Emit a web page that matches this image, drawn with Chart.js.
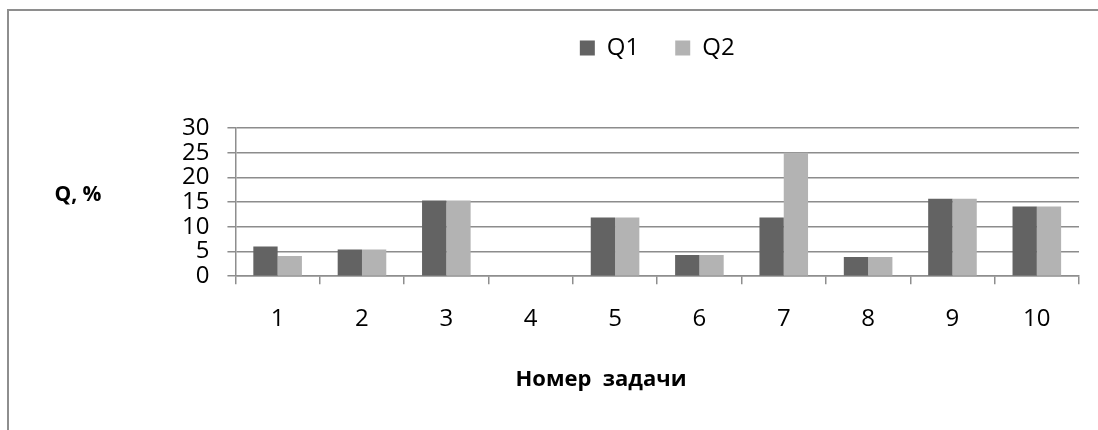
<!DOCTYPE html>
<html lang="ru">
<head>
  <meta charset="UTF-8">
  <title>Q1 / Q2 по номерам задач</title>
  <script src="https://cdn.jsdelivr.net/npm/chart.js@4.4.3/dist/chart.umd.min.js"></script>
  <style>
    body { margin: 0; background: #fff; font-family: "Open Sans", sans-serif; }
    .frame { position: absolute; left: 7px; top: 9px; width: 1100px; height: 430px;
             border-top: 2px solid #8e8e8e; border-left: 2px solid #8e8e8e; }
    .wrap { position: absolute; left: 0; top: 0; width: 1098px; height: 430px; }
  </style>
</head>
<body>
  <div class="frame"></div>
  <div class="wrap"><canvas id="chart"></canvas></div>

  <script>
    const tasks = ['1', '2', '3', '4', '5', '6', '7', '8', '9', '10'];
    const q1 = [6.0, 5.4, 15.3, 0, 11.9, 4.3, 11.9, 3.9, 15.7, 14.1];
    const q2 = [4.1, 5.4, 15.3, 0, 11.9, 4.3, 25.0, 3.9, 15.7, 14.1];
    const yTitle = 'Q, %';
    const xTitle = 'Номер  задачи';

    const font = '"Open Sans", sans-serif';

    // axis captions: y caption is horizontal, x caption sits left of the plot centre
    const captions = {
      id: 'captions',
      afterDraw(chart) {
        const { ctx, chartArea } = chart;
        ctx.save();
        ctx.fillStyle = '#000';
        ctx.textAlign = 'center';
        ctx.textBaseline = 'middle';
        ctx.font = 'bold 21px ' + font;
        ctx.fillText(yTitle, 78, (chartArea.top + chartArea.bottom) / 2 - 7);
        ctx.font = 'bold 22px ' + font;
        ctx.fillText(xTitle, 601, chartArea.bottom + 104);
        ctx.restore();
      }
    };

    // extra space between the legend and the plot
    const legendGap = {
      id: 'legendGap',
      beforeInit(chart) {
        const fit = chart.legend.fit;
        chart.legend.fit = function () {
          fit.bind(chart.legend)();
          this.height += 58;
        };
      }
    };

    new Chart(document.getElementById('chart'), {
      type: 'bar',
      data: {
        labels: tasks,
        datasets: [
          { label: 'Q1', data: q1, backgroundColor: '#636363' },
          { label: 'Q2', data: q2, backgroundColor: '#b3b3b3' }
        ]
      },
      options: {
        responsive: true,
        maintainAspectRatio: false,
        animation: false,
        categoryPercentage: 0.576,
        barPercentage: 1,
        layout: { padding: { left: 164, right: 19, top: 0, bottom: 75 } },
        plugins: {
          tooltip: { enabled: false },
          legend: {
            position: 'top',
            fullSize: false,
            labels: {
              boxWidth: 15,
              boxHeight: 15,
              padding: 36,
              color: '#000',
              font: { family: font, size: 24 }
            }
          }
        },
        scales: {
          x: {
            grid: {
              display: true,
              drawOnChartArea: false,
              drawTicks: true,
              tickLength: 8,
              color: '#8e8e8e',
              lineWidth: 1.5
            },
            border: { color: '#8e8e8e', width: 1.5 },
            ticks: { color: '#000', padding: 21, font: { family: font, size: 24 } }
          },
          y: {
            min: 0,
            max: 30,
            ticks: { stepSize: 5, autoSkip: false, color: '#000', padding: 18, font: { family: font, size: 24 } },
            grid: { color: '#8c8c8c', lineWidth: 1.5, tickLength: 8 },
            border: { color: '#8e8e8e', width: 1.5 }
          }
        }
      },
      plugins: [captions, legendGap]
    });
  </script>
</body>
</html>
